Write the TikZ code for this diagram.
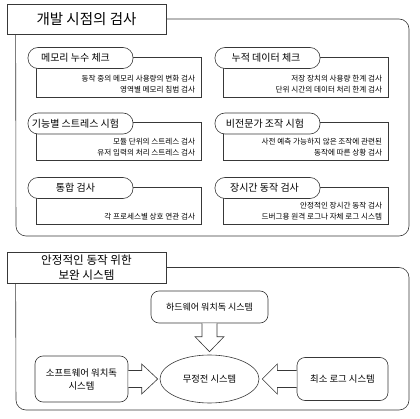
\documentclass[tikz,border=0pt]{standalone}
\usepackage{fontspec}
\setmainfont{Noto Sans CJK KR}
\usetikzlibrary{calc,shapes.geometric}
\tikzset{
  ln/.style={draw=black!78, line width=0.6pt},
  titlebox/.style={ln, line width=0.7pt, fill=white, minimum width=159, minimum height=30, inner sep=0, align=center},
  pill/.style={ln, fill=white, rounded corners=10, minimum width=105, minimum height=21, inner sep=0, font=\fontsize{10}{12}\selectfont},
  descbox/.style={ln, minimum width=165, inner sep=0},
  desc/.style={anchor=south east, align=right, inner sep=0, font=\fontsize{7.6}{11}\selectfont},
  sysbox/.style={ln, fill=white, rounded corners=8, inner sep=0, align=center, font=\fontsize{9.4}{13}\selectfont},
  blk/.style={ln, fill=white, line join=miter},
}
% #1 name, #2 pill centre x, #3 pill centre y, #4 box bottom y, #5 title, #6 text, #7 title shift (2x)
\newcommand\chkitem[7]{%
  \node[descbox, minimum height={#4-#3+1}] (#1b) at ({#2+38},{(#3-1+#4)/2}) {};
  \node[pill] (#1) at (#2,#3) {\hspace*{#7pt}#5};
  \node[desc] (#1t) at ($(#1b.south east)+(-6,-4)$) {#6};
}
\begin{document}
\begin{tikzpicture}[x=1pt,y=-1pt]
\useasboundingbox (0,0) rectangle (420,419);
% ---------- top section ----------
\node[titlebox, font=\fontsize{14.5}{17}\selectfont] (t1) at (86.5,19) {개발 시점의 검사};
\draw[ln, rounded corners=10] (t1.east) -- (409,19) -- (409,236) -- (16,236) -- ($(t1.south west)+(9,0)$);
\chkitem{r1l}{80.5}{58}{97}{메모리 누수 체크}{동작 중의 메모리 사용량의 변화 검사\\영역별 메모리 침범 검사}{-10}
\chkitem{r1r}{267.5}{58}{97}{누적 데이터 체크}{저장 장치의 사용량 한계 검사\\단위 시간의 데이터 처리 한계 검사}{-3}
\chkitem{r2l}{80.5}{123.5}{160}{기능별 스트레스 시험}{모듈 단위의 스트레스 검사\\유저 입력의 처리 스트레스 검사}{-10}
\chkitem{r2r}{267.5}{123.5}{160}{비전문가 조작 시험}{사전 예측 가능하지 않은 조작에 관련된\\동작에 따른 상황 검사}{-5}
\chkitem{r3l}{80.5}{188}{224}{통합 검사}{각 프로세스별 상호 연관 검사}{-10}
\chkitem{r3r}{267.5}{188}{224}{장시간 동작 검사}{안정적인 장시간 동작 검사\\드버그용 원격 로그나 자체 로그 시스템}{-6}
% ---------- bottom section ----------
\node[titlebox, minimum height=31, font=\fontsize{11.6}{14.5}\selectfont] (t2) at (86.5,267.5) {안정적인 동작 위한\\보완 시스템};
\draw[ln, rounded corners=10] (t2.east) -- (409,267.5) -- (409,410) -- (16,410) -- ($(t2.south west)+(9,0)$);
\node[sysbox, minimum width=117, minimum height=32, font=\fontsize{9}{12}\selectfont] (hw) at (209.5,307) {하드웨어 워치독 시스템};
\node[ln, ellipse, minimum width=99, minimum height=48, inner sep=0, font=\fontsize{9.3}{12}\selectfont] (ell) at (209.5,379) {무정전 시스템};
\node[sysbox, minimum width=93, minimum height=46] (sw) at (81.5,379) {소프트웨어 워치독\\시스템};
\node[sysbox, minimum width=91, minimum height=43] (log) at (342.5,379) {최소 로그 시스템};
% block arrows
\draw[blk] ($(hw.south)+(-7.5,0)$) -- ($(ell.north)+(-7.5,-18)$) -- ($(ell.north)+(-14.5,-18)$) -- ($(ell.north)+(0,-3)$) -- ($(ell.north)+(14.5,-18)$) -- ($(ell.north)+(7.5,-18)$) -- ($(hw.south)+(7.5,0)$);
\draw[blk] ($(sw.east)+(0,-8.5)$) -- ($(ell.west)+(-18,-8.5)$) -- ($(ell.west)+(-18,-15)$) -- ($(ell.west)+(-2,0)$) -- ($(ell.west)+(-18,15)$) -- ($(ell.west)+(-18,8.5)$) -- ($(sw.east)+(0,8.5)$);
\draw[blk] ($(log.west)+(0,-8.5)$) -- ($(ell.east)+(18,-8.5)$) -- ($(ell.east)+(18,-15)$) -- ($(ell.east)+(3,0)$) -- ($(ell.east)+(18,15)$) -- ($(ell.east)+(18,8.5)$) -- ($(log.west)+(0,8.5)$);
\end{tikzpicture}
\end{document}
